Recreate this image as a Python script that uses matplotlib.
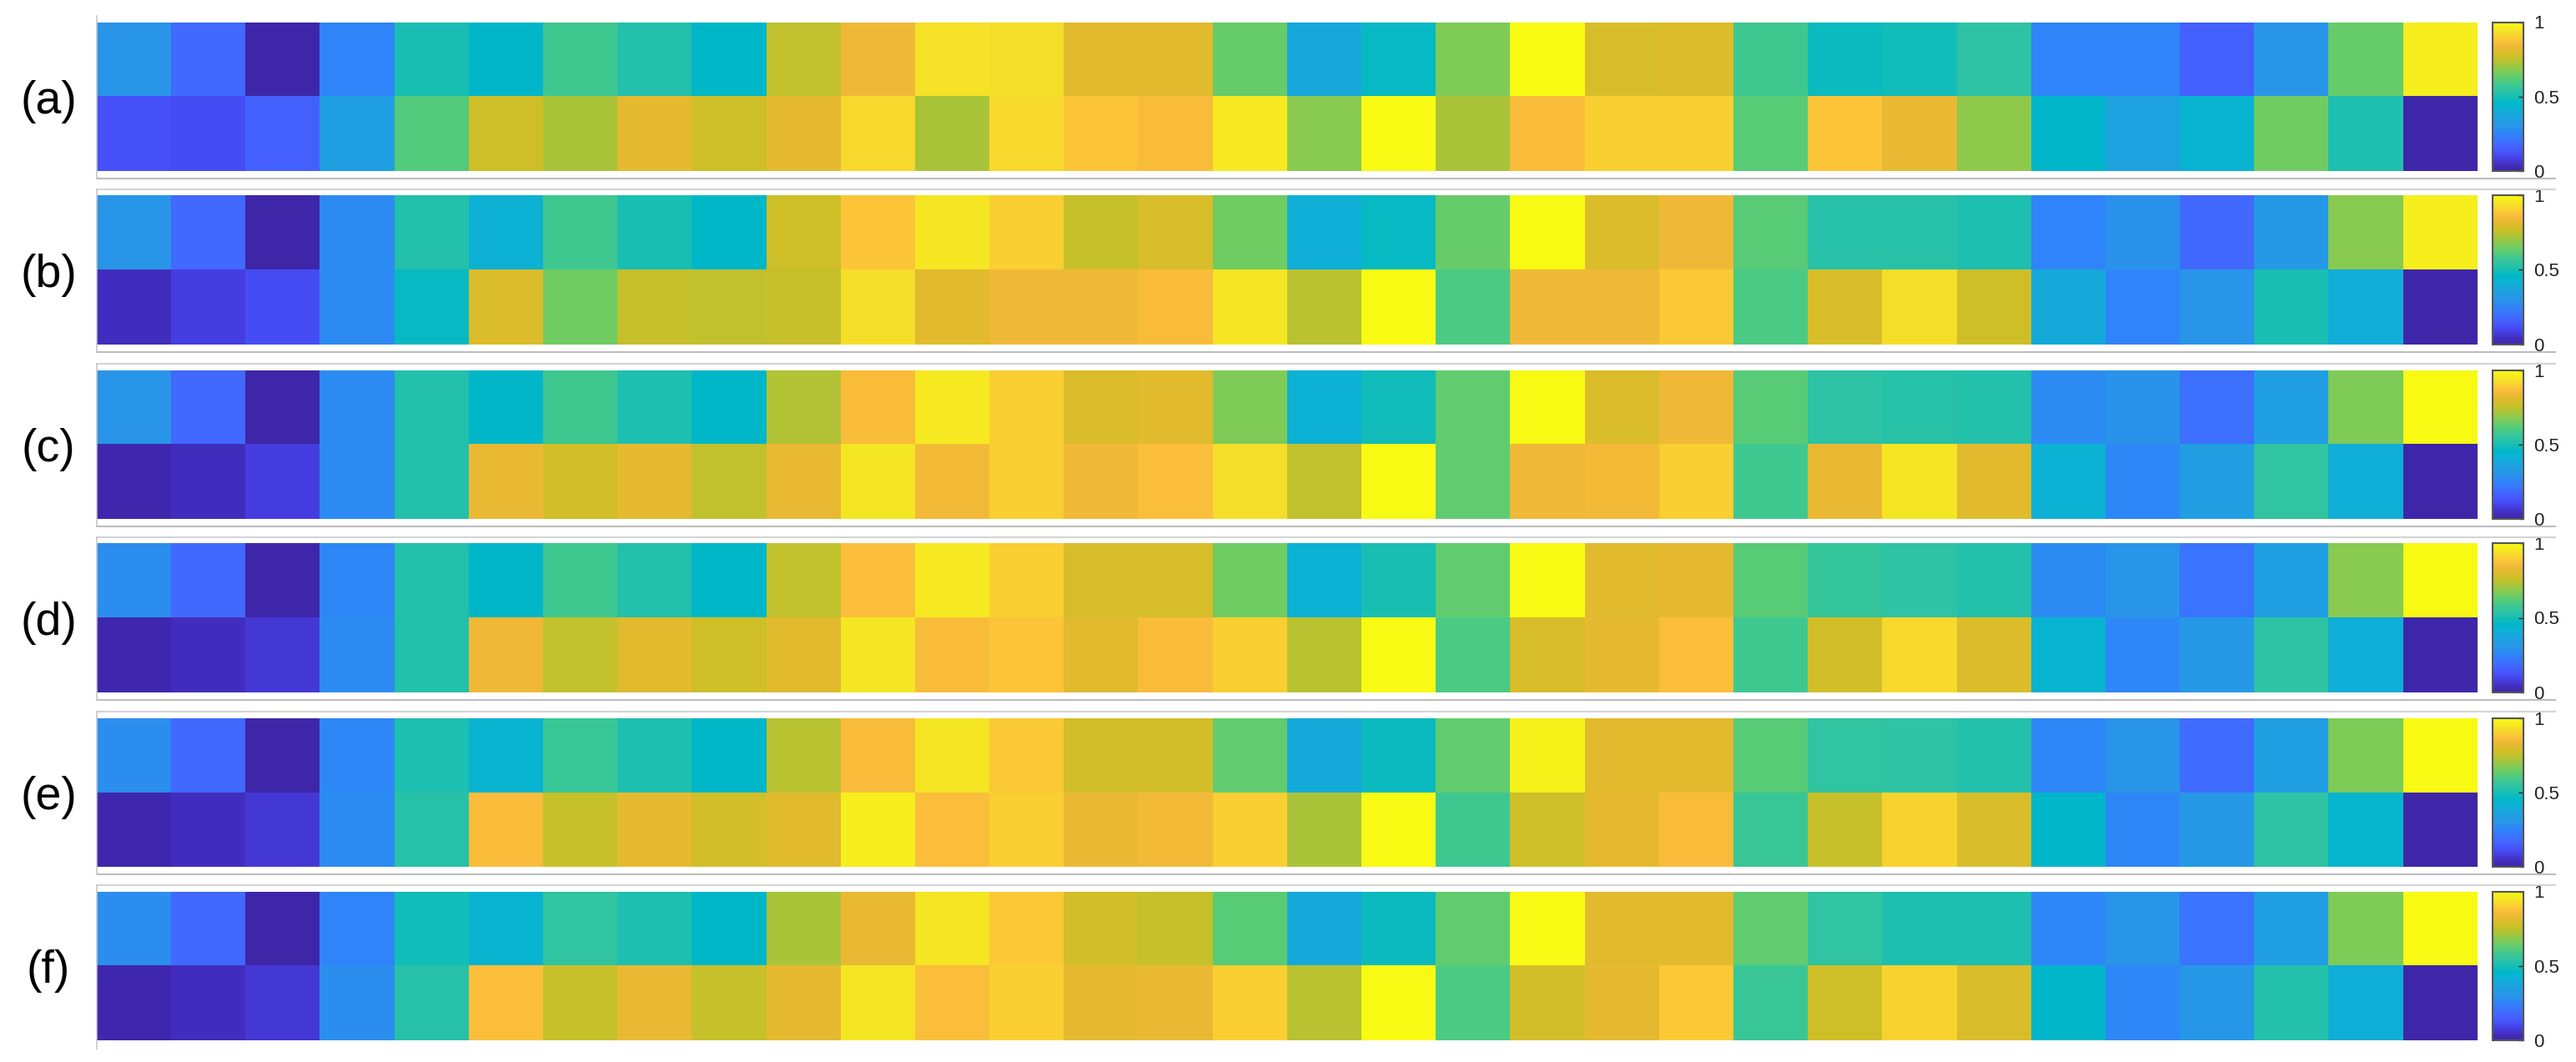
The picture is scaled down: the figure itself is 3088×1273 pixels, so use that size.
import numpy as np
import matplotlib
matplotlib.use("Agg")
import matplotlib.pyplot as plt
from matplotlib.colors import LinearSegmentedColormap
from matplotlib.lines import Line2D

plt.rcParams['font.family'] = ['Liberation Sans', 'DejaVu Sans']

# ---- datos (2 filas x 32 columnas por panel) ----
labels = ["(a)", "(b)", "(c)", "(d)", "(e)", "(f)"]

top_a = [0.30, 0.18, 0.00, 0.25, 0.50, 0.45, 0.58, 0.52, 0.46, 0.75, 0.84, 0.94, 0.93, 0.81, 0.81, 0.64,
         0.38, 0.47, 0.67, 1.00, 0.79, 0.80, 0.58, 0.48, 0.49, 0.54, 0.25, 0.25, 0.16, 0.30, 0.64, 0.97]
bot_a = [0.12, 0.11, 0.16, 0.35, 0.61, 0.77, 0.72, 0.82, 0.77, 0.82, 0.92, 0.72, 0.92, 0.88, 0.86, 0.96,
         0.68, 1.00, 0.72, 0.86, 0.90, 0.90, 0.62, 0.88, 0.83, 0.69, 0.45, 0.36, 0.43, 0.65, 0.51, 0.00]

top_b = [0.30, 0.18, 0.00, 0.27, 0.52, 0.42, 0.58, 0.50, 0.46, 0.77, 0.88, 0.95, 0.90, 0.76, 0.79, 0.65,
         0.41, 0.47, 0.64, 1.00, 0.80, 0.84, 0.62, 0.53, 0.53, 0.51, 0.25, 0.29, 0.18, 0.32, 0.68, 0.97]
bot_b = [0.04, 0.08, 0.11, 0.27, 0.47, 0.80, 0.65, 0.76, 0.75, 0.76, 0.93, 0.81, 0.84, 0.84, 0.86, 0.95,
         0.74, 1.00, 0.60, 0.84, 0.84, 0.89, 0.60, 0.79, 0.93, 0.77, 0.39, 0.25, 0.30, 0.50, 0.40, 0.00]

top_c = [0.30, 0.18, 0.00, 0.27, 0.52, 0.45, 0.58, 0.51, 0.46, 0.73, 0.86, 0.96, 0.90, 0.80, 0.81, 0.67,
         0.42, 0.49, 0.63, 1.00, 0.80, 0.84, 0.62, 0.54, 0.53, 0.52, 0.27, 0.29, 0.20, 0.35, 0.67, 1.00]
bot_c = [0.01, 0.04, 0.08, 0.27, 0.52, 0.83, 0.78, 0.82, 0.75, 0.83, 0.95, 0.85, 0.90, 0.84, 0.87, 0.93,
         0.75, 1.00, 0.63, 0.84, 0.85, 0.90, 0.58, 0.83, 0.95, 0.81, 0.42, 0.26, 0.34, 0.55, 0.41, 0.00]

top_d = [0.28, 0.18, 0.00, 0.26, 0.52, 0.45, 0.58, 0.52, 0.46, 0.75, 0.87, 0.96, 0.90, 0.79, 0.79, 0.65,
         0.42, 0.50, 0.63, 1.00, 0.81, 0.82, 0.62, 0.56, 0.54, 0.52, 0.27, 0.30, 0.21, 0.35, 0.68, 1.00]
bot_d = [0.01, 0.04, 0.07, 0.27, 0.52, 0.84, 0.75, 0.81, 0.77, 0.81, 0.95, 0.86, 0.88, 0.81, 0.86, 0.90,
         0.74, 1.00, 0.60, 0.79, 0.82, 0.87, 0.58, 0.78, 0.92, 0.80, 0.43, 0.26, 0.32, 0.54, 0.41, 0.00]

top_e = [0.28, 0.18, 0.00, 0.26, 0.51, 0.43, 0.57, 0.51, 0.46, 0.74, 0.86, 0.95, 0.89, 0.78, 0.78, 0.63,
         0.39, 0.48, 0.63, 0.98, 0.81, 0.81, 0.62, 0.55, 0.54, 0.52, 0.26, 0.30, 0.19, 0.35, 0.67, 1.00]
bot_e = [0.01, 0.04, 0.07, 0.27, 0.53, 0.86, 0.76, 0.82, 0.78, 0.81, 0.97, 0.87, 0.90, 0.83, 0.85, 0.90,
         0.72, 1.00, 0.58, 0.77, 0.82, 0.86, 0.57, 0.76, 0.91, 0.79, 0.45, 0.26, 0.32, 0.54, 0.44, 0.00]

top_f = [0.28, 0.18, 0.00, 0.25, 0.49, 0.43, 0.55, 0.51, 0.46, 0.72, 0.83, 0.95, 0.89, 0.78, 0.76, 0.62,
         0.39, 0.48, 0.63, 1.00, 0.81, 0.81, 0.63, 0.55, 0.51, 0.51, 0.26, 0.30, 0.21, 0.35, 0.67, 1.00]
bot_f = [0.01, 0.04, 0.07, 0.28, 0.53, 0.87, 0.76, 0.83, 0.76, 0.82, 0.95, 0.87, 0.90, 0.82, 0.83, 0.90,
         0.74, 1.00, 0.60, 0.78, 0.82, 0.89, 0.57, 0.77, 0.91, 0.79, 0.45, 0.26, 0.31, 0.52, 0.41, 0.00]

paneles = [(top_a, bot_a), (top_b, bot_b), (top_c, bot_c),
           (top_d, bot_d), (top_e, bot_e), (top_f, bot_f)]

# ---- mapa de color tipo parula ----
anclas = [
    (0.00, (62, 38, 168)), (0.04, (66, 46, 190)), (0.08, (70, 62, 225)),
    (0.12, (70, 82, 250)), (0.18, (66, 105, 255)), (0.25, (48, 132, 250)),
    (0.30, (40, 150, 232)), (0.36, (30, 162, 224)), (0.42, (12, 178, 212)),
    (0.46, (0, 184, 200)), (0.50, (25, 190, 180)), (0.54, (45, 195, 165)),
    (0.58, (62, 200, 145)), (0.63, (95, 205, 112)), (0.68, (135, 203, 82)),
    (0.73, (178, 195, 52)), (0.77, (205, 192, 40)), (0.81, (225, 187, 45)),
    (0.84, (238, 185, 55)), (0.87, (252, 190, 60)), (0.90, (250, 207, 50)),
    (0.94, (245, 225, 40)), (1.00, (248, 250, 20)),
]
parula = LinearSegmentedColormap.from_list(
    "parula", [(p, tuple(c / 255 for c in rgb)) for p, rgb in anclas], N=256)

# ---- geometria en pixeles ----
W, H = 3088, 1273
x0, x1 = 116, 2970
cb0, cb1 = 2988, 3025
img_top = [26.5, 234, 444, 651, 861, 1068.5]
img_bot = [205, 413, 622, 830, 1039, 1247]
gris_top = [19, 227, 436, 644, 853, 1061]
gris_bot = [214, 422, 631, 839, 1048, 1257]

fig = plt.figure(figsize=(W / 100, H / 100), dpi=100)


def fx(px):
    return px / W


def fy(py):
    return 1 - py / H


for i, (fila1, fila2) in enumerate(paneles):
    datos = np.array([fila1, fila2])
    t, b = img_top[i], img_bot[i]
    ax = fig.add_axes([fx(x0), fy(b), fx(x1 - x0), (b - t) / H])
    im = ax.imshow(datos, cmap=parula, vmin=0, vmax=1, aspect="auto",
                   interpolation="nearest")
    ax.axis("off")

    cax = fig.add_axes([fx(cb0), fy(b), fx(cb1 - cb0), (b - t) / H])
    cb = fig.colorbar(im, cax=cax, ticks=[0, 0.5, 1])
    cb.ax.set_yticklabels(["0", "0.5", "1"])
    cb.ax.tick_params(direction="in", length=4, width=1, pad=9,
                      labelsize=16, colors="#222222")
    cb.outline.set_edgecolor("#555555")
    cb.outline.set_linewidth(1.5)

    # marco gris claro
    if i > 0:
        fig.add_artist(Line2D([fx(x0), fx(3063)], [fy(gris_top[i])] * 2,
                              color="#d4d4d4", lw=1.5))
    if i < len(paneles) - 1:
        fig.add_artist(Line2D([fx(x0), fx(3063)], [fy(gris_bot[i])] * 2,
                              color="#bdbdbd", lw=1.5))
    fig.add_artist(Line2D([fx(x0)] * 2, [fy(gris_top[i]), fy(gris_bot[i])],
                          color="#c8c8c8", lw=1.2))

    fig.text(fx(58), fy((t + b) / 2 + 6), labels[i], fontsize=40,
             ha="center", va="center", color="black")

fig.savefig("out.png", dpi=100)
